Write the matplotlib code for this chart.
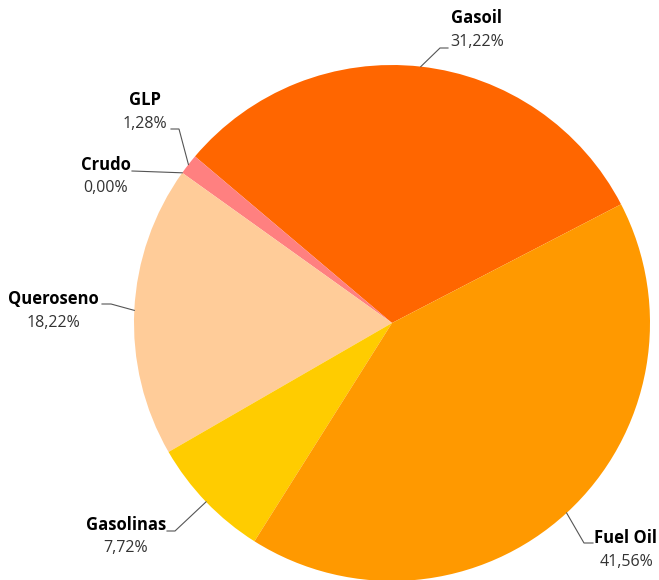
import matplotlib.pyplot as plt
import numpy as np

W, H = 659, 580

products = ["Gasoil", "GLP", "Crudo", "Queroseno", "Gasolinas", "Fuel Oil"]
shares = [31.22, 1.28, 0.00, 18.22, 7.72, 41.56]
colors = ["#FF6600", "#FF8080", "#FFB380", "#FFCC99", "#FFCC00", "#FF9900"]

# label layout in pixels (from top-left): connector elbow, block centre x, name y, pct y
label_layout = {
    "Gasoil": dict(elbow=(440, 48), end=(448, 48), cx=477, ny=18, py=42),
    "GLP": dict(elbow=(179, 129), end=(171, 129), cx=145, ny=100, py=124),
    "Crudo": dict(elbow=(132, 171), end=(132, 171), cx=106, ny=165, py=188),
    "Queroseno": dict(elbow=(111, 304), end=(102, 304), cx=53, ny=299, py=323),
    "Gasolinas": dict(elbow=(175, 531), end=(167, 531), cx=126, ny=525, py=548),
    "Fuel Oil": dict(elbow=(584, 543), end=(593, 543), cx=626, ny=538, py=562),
}

plt.rcParams["font.family"] = ["Open Sans", "DejaVu Sans"]

fig = plt.figure(figsize=(W / 100, H / 100), dpi=100)
ax = fig.add_axes([0, 0, 1, 1])

cx, cy, r = 392, H - 323, 258
wedges, _ = ax.pie(
    shares,
    colors=colors,
    startangle=27.4,
    counterclock=True,
    center=(cx, cy),
    radius=r,
    wedgeprops=dict(linewidth=0),
)
ax.set_xlim(0, W)
ax.set_ylim(0, H)
ax.set_aspect("auto")
ax.axis("off")

for name, value, wedge in zip(products, shares, wedges):
    lay = label_layout[name]
    mid = np.deg2rad((wedge.theta1 + wedge.theta2) / 2)
    sx, sy = cx + r * np.cos(mid), cy + r * np.sin(mid)
    ex, ey = lay["elbow"]
    tx, ty = lay["end"]
    ax.plot([sx, ex, tx], [sy, H - ey, H - ty], color="#555555", lw=0.8,
            solid_joinstyle="miter", clip_on=False)
    ax.text(lay["cx"], H - lay["ny"], name, ha="center", va="center",
            fontsize=12, fontweight="bold", color="#000000")
    ax.text(lay["cx"], H - lay["py"], f"{value:.2f}%".replace(".", ","),
            ha="center", va="center", fontsize=11.5, color="#333333")

fig.savefig("out.png", dpi=100)
